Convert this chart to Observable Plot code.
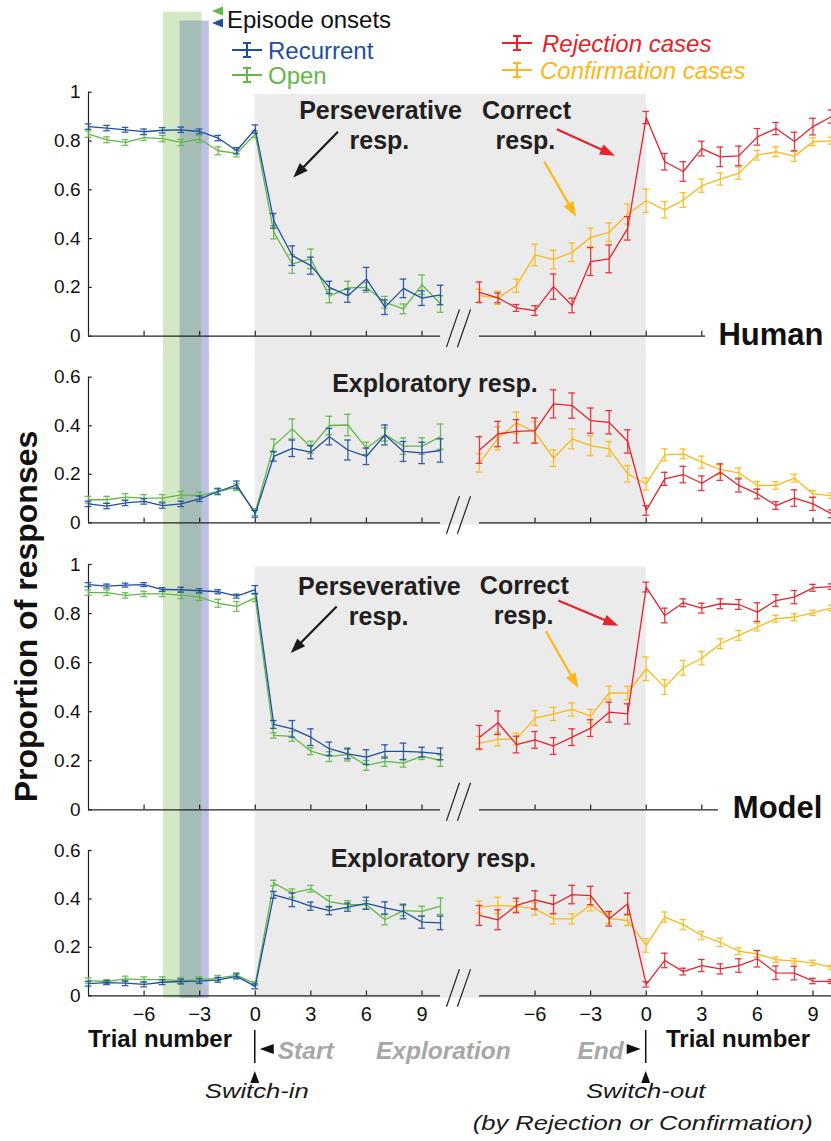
<!DOCTYPE html>
<html>
<head>
<meta charset="utf-8">
<script src="https://cdn.jsdelivr.net/npm/d3@7"></script>
<script src="https://cdn.jsdelivr.net/npm/@observablehq/plot@0.6"></script>
<style>
html, body { margin: 0; padding: 0; background: #fff; }
#fig { position: relative; width: 831px; height: 1141px; overflow: hidden; font-family: "Liberation Sans", Arial, Helvetica, sans-serif; }
#fig > svg { position: absolute; left: 0; }
</style>
</head>
<body>
<div id="fig"></div>
<script>
// ---------------- data ----------------
const OFF = 21.1; // horizontal offset of the switch-out block (trial units)
const leftTrials  = [-9,-8,-7,-6,-5,-4,-3,-2,-1,0,1,2,3,4,5,6,7,8,9,10];
const rightTrials = [-9,-8,-7,-6,-5,-4,-3,-2,-1,0,1,2,3,4,5,6,7,8,9,10];
const xTickTrials = [-6,-3,0,3,6,9];
const yTicksFull = [0,0.2,0.4,0.6,0.8,1];
const yTicksExpl = [0,0.2,0.4,0.6];
const onsetOpen = [-4.95,-2.88];
const onsetRecurrent = [-4.05,-2.48];

// Human – perseverative (left) / correct (right)
const hpRecurrent   = [0.859,0.853,0.846,0.838,0.844,0.846,0.839,0.812,0.760,0.849,0.473,0.330,0.289,0.200,0.166,0.235,0.119,0.196,0.156,0.169];
const hpRecurrentSE = [0.011,0.011,0.010,0.011,0.011,0.011,0.010,0.011,0.013,0.017,0.030,0.040,0.035,0.025,0.027,0.047,0.030,0.038,0.030,0.040];
const hpOpen        = [0.828,0.805,0.794,0.814,0.810,0.794,0.808,0.760,0.749,0.828,0.426,0.296,0.317,0.164,0.198,0.200,0.139,0.112,0.211,0.132];
const hpOpenSE      = [0.013,0.012,0.012,0.012,0.013,0.013,0.014,0.016,0.014,0.014,0.027,0.038,0.040,0.027,0.027,0.020,0.024,0.020,0.040,0.034];
const hcRejection     = [0.180,0.157,0.116,0.105,0.203,0.126,0.306,0.317,0.442,0.896,0.715,0.675,0.769,0.735,0.739,0.817,0.851,0.798,0.859,0.900];
const hcRejectionSE   = [0.042,0.020,0.014,0.020,0.052,0.030,0.057,0.057,0.048,0.025,0.034,0.040,0.030,0.040,0.040,0.034,0.025,0.038,0.034,0.027];
const hcConfirmation   = [0.166,0.157,0.207,0.333,0.314,0.344,0.405,0.426,0.501,0.555,0.518,0.558,0.617,0.644,0.668,0.742,0.756,0.737,0.797,0.801];
const hcConfirmationSE = [0.027,0.027,0.027,0.044,0.038,0.038,0.038,0.038,0.041,0.048,0.034,0.030,0.027,0.025,0.025,0.020,0.020,0.020,0.016,0.014];

// Human – exploratory
const heRecurrent   = [0.078,0.069,0.082,0.088,0.071,0.078,0.099,0.129,0.156,0.037,0.274,0.307,0.291,0.355,0.300,0.274,0.362,0.294,0.288,0.298];
const heRecurrentSE = [0.011,0.011,0.011,0.011,0.011,0.011,0.011,0.011,0.016,0.014,0.020,0.034,0.027,0.034,0.041,0.034,0.041,0.041,0.044,0.048];
const heOpen        = [0.095,0.095,0.106,0.102,0.102,0.115,0.112,0.129,0.147,0.044,0.318,0.387,0.311,0.401,0.403,0.307,0.364,0.316,0.316,0.355];
const heOpenSE      = [0.014,0.014,0.014,0.014,0.014,0.014,0.014,0.014,0.014,0.014,0.027,0.041,0.025,0.038,0.044,0.025,0.027,0.034,0.034,0.052];
const heRejection     = [0.300,0.366,0.377,0.380,0.490,0.483,0.421,0.414,0.335,0.051,0.181,0.199,0.163,0.209,0.154,0.119,0.071,0.102,0.078,0.037];
const heRejectionSE   = [0.055,0.052,0.048,0.052,0.058,0.052,0.052,0.048,0.048,0.020,0.027,0.034,0.030,0.034,0.027,0.020,0.016,0.034,0.027,0.016];
const heConfirmation   = [0.247,0.348,0.412,0.373,0.266,0.346,0.318,0.305,0.202,0.160,0.280,0.284,0.250,0.219,0.206,0.154,0.154,0.184,0.119,0.112];
const heConfirmationSE = [0.038,0.048,0.044,0.044,0.034,0.041,0.041,0.030,0.034,0.025,0.025,0.020,0.025,0.020,0.020,0.016,0.016,0.016,0.014,0.011];

// Model – perseverative / correct
const mpRecurrent   = [0.918,0.912,0.916,0.918,0.898,0.897,0.893,0.889,0.871,0.898,0.348,0.330,0.296,0.249,0.228,0.215,0.238,0.238,0.235,0.228];
const mpRecurrentSE = [0.008,0.008,0.008,0.008,0.008,0.010,0.008,0.008,0.008,0.016,0.016,0.034,0.034,0.027,0.020,0.030,0.027,0.034,0.020,0.024];
const mpOpen        = [0.885,0.885,0.874,0.880,0.880,0.875,0.867,0.842,0.829,0.864,0.303,0.299,0.239,0.217,0.226,0.181,0.197,0.190,0.219,0.201];
const mpOpenSE      = [0.011,0.011,0.011,0.011,0.011,0.014,0.014,0.016,0.020,0.014,0.011,0.020,0.014,0.020,0.027,0.020,0.020,0.016,0.014,0.024];
const mcRejection     = [0.296,0.355,0.266,0.285,0.260,0.296,0.333,0.398,0.391,0.908,0.792,0.844,0.822,0.840,0.837,0.806,0.853,0.867,0.905,0.910];
const mcRejectionSE   = [0.048,0.048,0.034,0.034,0.034,0.034,0.034,0.041,0.041,0.020,0.030,0.016,0.020,0.020,0.020,0.038,0.024,0.027,0.014,0.011];
const mcConfirmation   = [0.272,0.287,0.289,0.374,0.391,0.409,0.382,0.477,0.476,0.575,0.500,0.579,0.618,0.677,0.711,0.745,0.779,0.785,0.803,0.823];
const mcConfirmationSE = [0.027,0.027,0.024,0.030,0.027,0.027,0.027,0.027,0.027,0.048,0.030,0.030,0.027,0.020,0.020,0.016,0.014,0.014,0.011,0.011];

// Model – exploratory
const meRecurrent   = [0.050,0.054,0.052,0.047,0.056,0.059,0.061,0.066,0.080,0.039,0.417,0.396,0.370,0.352,0.366,0.382,0.363,0.348,0.304,0.301];
const meRecurrentSE = [0.010,0.008,0.010,0.010,0.010,0.010,0.010,0.010,0.010,0.010,0.014,0.028,0.017,0.017,0.017,0.025,0.025,0.030,0.025,0.028];
const meOpen        = [0.063,0.059,0.070,0.067,0.067,0.063,0.067,0.073,0.084,0.050,0.466,0.424,0.442,0.389,0.376,0.376,0.314,0.352,0.349,0.370];
const meOpenSE      = [0.011,0.008,0.011,0.011,0.011,0.011,0.011,0.011,0.011,0.008,0.011,0.017,0.014,0.025,0.017,0.017,0.021,0.021,0.021,0.034];
const meRejection     = [0.332,0.314,0.373,0.396,0.377,0.418,0.414,0.318,0.380,0.047,0.146,0.100,0.125,0.111,0.125,0.153,0.095,0.094,0.061,0.059];
const meRejectionSE   = [0.041,0.041,0.030,0.038,0.038,0.038,0.038,0.030,0.044,0.011,0.030,0.014,0.025,0.021,0.028,0.034,0.028,0.028,0.011,0.008];
const meConfirmation   = [0.366,0.373,0.369,0.359,0.318,0.318,0.376,0.320,0.311,0.208,0.325,0.294,0.249,0.221,0.184,0.173,0.149,0.143,0.136,0.118];
const meConfirmationSE = [0.025,0.034,0.021,0.025,0.021,0.021,0.025,0.021,0.021,0.028,0.021,0.021,0.017,0.017,0.014,0.014,0.011,0.011,0.011,0.008];

// ---------------- style ----------------
const COL = {
  recurrent: "#1f4fa0", open: "#62b847", rejection: "#e6232b", confirmation: "#fbb817",
  gray: "#ebebeb", bandOpen: "#d4e8c6", bandRec: "#bcc1e2", bandBoth: "#a6bcb6", ink: "#231f20"
};
const FONT = '"Liberation Sans", Arial, Helvetica, sans-serif';

const fmtY = d => String(d);
const fmtX = d => { const t = d > 11 ? Math.round(d - OFF) : d; return t < 0 ? "\u2212" + (-t) : String(t); };

function rows(trials, v, e, off) { return trials.map((t, i) => ({x: t + off, v: v[i], e: e[i]})); }

function stretch(root, selector, s) {
  root.querySelectorAll(selector).forEach(t => {
    const tr = t.getAttribute("transform") || "";
    const x = t.getAttribute("x") || 0, y = t.getAttribute("y") || 0;
    t.removeAttribute("x"); t.removeAttribute("y");
    t.setAttribute("transform", `${tr} translate(${x},${y}) scale(${s},1)`);
  });
}

function seriesMarks(data, color) {
  const cap = 0.18;
  return [
    Plot.ruleX(data, {x: "x", y1: d => d.v - d.e, y2: d => d.v + d.e, stroke: color, strokeWidth: 1.3, strokeOpacity: 0.9}),
    Plot.ruleY(data, {y: d => d.v + d.e, x1: d => d.x - cap, x2: d => d.x + cap, stroke: color, strokeWidth: 1.3, strokeOpacity: 0.9}),
    Plot.ruleY(data, {y: d => d.v - d.e, x1: d => d.x - cap, x2: d => d.x + cap, stroke: color, strokeWidth: 1.3, strokeOpacity: 0.9}),
    Plot.line(data, {x: "x", y: "v", stroke: color, strokeWidth: 1.3})
  ];
}

function makePanel(cfg) {
  const yExt = o => (o ? o : {});
  const bandBoth = [Math.max(onsetOpen[0], onsetRecurrent[0]), Math.min(onsetOpen[1], onsetRecurrent[1])];
  const bo = cfg.bandOpenY, br = cfg.bandRecY;
  const bb = bo && br ? {y1: Math.max(bo.y1, br.y1), y2: Math.min(bo.y2, br.y2)} : undefined;
  const rightTicks = xTickTrials.map(t => t + OFF).filter(t => t <= cfg.rightAxisEnd + 1e-9);
  const allTicks = [...xTickTrials, ...rightTicks];
  const marks = [
    Plot.rect([onsetOpen], {x1: d => d[0], x2: d => d[1], ...yExt(bo && {y1: () => bo.y1, y2: () => bo.y2}), fill: COL.bandOpen}),
    Plot.rect([onsetRecurrent], {x1: d => d[0], x2: d => d[1], ...yExt(br && {y1: () => br.y1, y2: () => br.y2}), fill: COL.bandRec}),
    Plot.rect([bandBoth], {x1: d => d[0], x2: d => d[1], ...yExt(bb && {y1: () => bb.y1, y2: () => bb.y2}), fill: COL.bandBoth}),
    Plot.rect([[0, OFF]], {x1: d => d[0], x2: d => d[1], y1: () => cfg.grayY.y1, y2: () => cfg.grayY.y2, fill: COL.gray}),
    // axes
    Plot.ruleY([0], {x1: () => -9, x2: () => 10, stroke: "#222", strokeWidth: 1.2}),
    Plot.ruleY([0], {x1: () => OFF - 9, x2: () => cfg.rightAxisEnd, stroke: "#222", strokeWidth: 1.2}),
    Plot.ruleX([-9], {y1: () => 0, y2: () => cfg.yMax, stroke: "#222", strokeWidth: 1.2}),
    Plot.ruleX(allTicks, {x: d => d, y1: () => 0, y2: () => 0.02, stroke: "#222", strokeWidth: 1.2}),
    Plot.ruleY(cfg.yTicks, {y: d => d, x1: () => -9, x2: () => -8.8, stroke: "#222", strokeWidth: 1.2}),
    Plot.text(cfg.yTicks, {x: () => -9, y: d => d, text: fmtY, textAnchor: "end", dx: -8, fontSize: 19, fill: "#111", ariaLabel: "ytick"}),
    // axis break marks
    Plot.link(cfg.breaks, {x1: d => d[0], x2: d => d[1], y1: () => -0.045, y2: () => 0.11, stroke: "#222", strokeWidth: 1.2}),
    // data
    ...seriesMarks(rows(leftTrials, cfg.open.v, cfg.open.e, 0), COL.open),
    ...seriesMarks(rows(leftTrials, cfg.recurrent.v, cfg.recurrent.e, 0), COL.recurrent),
    ...seriesMarks(rows(rightTrials, cfg.confirmation.v, cfg.confirmation.e, OFF), COL.confirmation),
    ...seriesMarks(rows(rightTrials, cfg.rejection.v, cfg.rejection.e, OFF), COL.rejection),
    // annotations
    Plot.text(cfg.texts, {x: "x", y: "y", text: "text", fontSize: 25, fontWeight: "bold", fill: COL.ink, textAnchor: "middle"})
  ];
  if (cfg.label) {
    marks.push(Plot.text([cfg.label], {x: "x", y: "y", text: "text", fontSize: 31, fontWeight: "bold", fill: "#111", textAnchor: "end"}));
  }
  if (cfg.xLabels) {
    marks.push(Plot.text([...xTickTrials, ...xTickTrials.map(t => t + OFF)], {x: d => d, y: () => 0, text: fmtX, dy: 19, fontSize: 20, fill: "#111"}));
  }
  const svg = Plot.plot({
    width: 831, height: cfg.height,
    marginLeft: 88, marginRight: 0, marginTop: 0, marginBottom: 0,
    x: {domain: [-9, OFF + 10], axis: null},
    y: {domain: [0, cfg.yMax], range: [cfg.y0, cfg.y1], axis: null},
    style: {background: "transparent", overflow: "hidden", fontFamily: FONT},
    marks
  });
  svg.style.top = cfg.top + "px";
  stretch(svg, 'g[aria-label="ytick"] text', 1.22);
  // annotation arrows (filled heads)
  const sx = svg.scale("x"), sy = svg.scale("y");
  const g = d3.select(svg).append("g");
  for (const a of cfg.arrows) {
    const x1 = sx.apply(a.x1), y1 = sy.apply(a.y1), x2 = sx.apply(a.x2), y2 = sy.apply(a.y2);
    const L = Math.hypot(x2 - x1, y2 - y1), ux = (x2 - x1) / L, uy = (y2 - y1) / L;
    const hl = 15, hw = 5.5, bx = x2 - ux * hl, by = y2 - uy * hl;
    g.append("line").attr("x1", x1).attr("y1", y1).attr("x2", bx + ux * 2).attr("y2", by + uy * 2)
      .attr("stroke", a.color).attr("stroke-width", 2.2);
    g.append("path").attr("d", `M${x2},${y2}L${bx - uy * hw},${by + ux * hw}L${bx + uy * hw},${by - ux * hw}Z`).attr("fill", a.color);
  }
  return svg;
}

const fig = document.getElementById("fig");
const breaks = [[10.32, 11.02], [10.91, 11.62]];

const p1 = makePanel({
  top: 0, height: 362, yMax: 1, y0: 335.7, y1: 91.7, yTicks: yTicksFull,
  recurrent: {v: hpRecurrent, e: hpRecurrentSE}, open: {v: hpOpen, e: hpOpenSE},
  rejection: {v: hcRejection, e: hcRejectionSE}, confirmation: {v: hcConfirmation, e: hcConfirmationSE},
  grayY: {y1: -1, y2: 0.99}, bandOpenY: {y1: -1, y2: 1.328}, bandRecY: {y1: -1, y2: 1.291},
  rightAxisEnd: 24.3, breaks,
  texts: [
    {x: 6.76, y: 0.924, text: "Perseverative"}, {x: 6.70, y: 0.801, text: "resp."},
    {x: 14.64, y: 0.924, text: "Correct"}, {x: 14.58, y: 0.801, text: "resp."}
  ],
  label: {x: 30.67, y: 0.003, text: "Human"},
  arrows: [
    {x1: 4.49, y1: 0.836, x2: 2.08, y2: 0.648, color: "#1a1a1a"},
    {x1: 16.30, y1: 0.846, x2: 19.44, y2: 0.738, color: COL.rejection},
    {x1: 15.63, y1: 0.713, x2: 17.34, y2: 0.488, color: COL.confirmation}
  ]
});
const p2 = makePanel({
  top: 350, height: 190, yMax: 0.6, y0: 172.3, y1: 26.7, yTicks: yTicksExpl,
  recurrent: {v: heRecurrent, e: heRecurrentSE}, open: {v: heOpen, e: heOpenSE},
  rejection: {v: heRejection, e: heRejectionSE}, confirmation: {v: heConfirmation, e: heConfirmationSE},
  grayY: {y1: -0.01, y2: 1}, rightAxisEnd: OFF + 10, breaks,
  texts: [{x: 9.70, y: 0.570, text: "Exploratory resp."}],
  arrows: []
});
const p3 = makePanel({
  top: 540, height: 290, yMax: 1, y0: 269.3, y1: 24, yTicks: yTicksFull,
  recurrent: {v: mpRecurrent, e: mpRecurrentSE}, open: {v: mpOpen, e: mpOpenSE},
  rejection: {v: mcRejection, e: mcRejectionSE}, confirmation: {v: mcConfirmation, e: mcConfirmationSE},
  grayY: {y1: -1, y2: 0.99}, rightAxisEnd: 25.0, breaks,
  texts: [
    {x: 6.70, y: 0.907, text: "Perseverative"}, {x: 6.66, y: 0.785, text: "resp."},
    {x: 14.52, y: 0.914, text: "Correct"}, {x: 14.48, y: 0.792, text: "resp."}
  ],
  label: {x: 30.61, y: 0.005, text: "Model"},
  arrows: [
    {x1: 4.42, y1: 0.827, x2: 1.94, y2: 0.637, color: "#1a1a1a"},
    {x1: 16.38, y1: 0.851, x2: 19.62, y2: 0.748, color: COL.rejection},
    {x1: 15.72, y1: 0.725, x2: 17.46, y2: 0.494, color: COL.confirmation}
  ]
});
const p4 = makePanel({
  top: 830, height: 311, yMax: 0.6, y0: 165.3, y1: 20, yTicks: yTicksExpl,
  recurrent: {v: meRecurrent, e: meRecurrentSE}, open: {v: meOpen, e: meOpenSE},
  rejection: {v: meRejection, e: meRejectionSE}, confirmation: {v: meConfirmation, e: meConfirmationSE},
  grayY: {y1: -0.01, y2: 1}, bandOpenY: {y1: -0.01, y2: 1}, bandRecY: {y1: -0.01, y2: 1},
  rightAxisEnd: OFF + 10, breaks, xLabels: true,
  texts: [{x: 9.62, y: 0.564, text: "Exploratory resp."}],
  arrows: []
});
[p1, p2, p3, p4].forEach(p => fig.appendChild(p));

// ---------------- overlay: legend, axis titles, switch annotations ----------------
const ov = d3.select(fig).append("svg").attr("width", 831).attr("height", 1141)
  .style("top", "0px").style("font-family", FONT);

function txt(x, y, s, o = {}) {
  const t = ov.append("text")
    .attr("transform", `translate(${x},${y})` + (o.rotate ? ` rotate(${o.rotate})` : "") + (o.sx ? ` scale(${o.sx},1)` : ""))
    .attr("font-size", o.size || 24).attr("fill", o.fill || "#111")
    .attr("text-anchor", o.anchor || "start").text(s);
  if (o.weight) t.attr("font-weight", o.weight);
  if (o.italic) t.attr("font-style", "italic");
  return t;
}
function tri(cx, cy, dir, w, h, fill) {
  let d;
  if (dir === "left") d = `M${cx - w / 2},${cy}L${cx + w / 2},${cy - h / 2}L${cx + w / 2},${cy + h / 2}Z`;
  if (dir === "right") d = `M${cx + w / 2},${cy}L${cx - w / 2},${cy - h / 2}L${cx - w / 2},${cy + h / 2}Z`;
  if (dir === "up") d = `M${cx},${cy - h / 2}L${cx - w / 2},${cy + h / 2}L${cx + w / 2},${cy + h / 2}Z`;
  ov.append("path").attr("d", d).attr("fill", fill);
}
function errSym(x, y, color) {
  ov.append("line").attr("x1", x - 15).attr("x2", x + 15).attr("y1", y).attr("y2", y).attr("stroke", color).attr("stroke-width", 2);
  ov.append("line").attr("x1", x).attr("x2", x).attr("y1", y - 7).attr("y2", y + 7).attr("stroke", color).attr("stroke-width", 2);
  ov.append("line").attr("x1", x - 4).attr("x2", x + 4).attr("y1", y - 7).attr("y2", y - 7).attr("stroke", color).attr("stroke-width", 2);
  ov.append("line").attr("x1", x - 4).attr("x2", x + 4).attr("y1", y + 7).attr("y2", y + 7).attr("stroke", color).attr("stroke-width", 2);
}

// legend
tri(217.5, 11, "left", 11, 9, COL.open);
tri(217.5, 23, "left", 11, 9, COL.recurrent);
txt(227, 28, "Episode onsets", {size: 24, fill: "#111"});
errSym(247, 50, COL.recurrent);
txt(268, 59, "Recurrent", {size: 24, fill: COL.recurrent});
errSym(247, 75, COL.open);
txt(268, 84, "Open", {size: 24, fill: COL.open});
errSym(517, 43, COL.rejection);
txt(542, 52, "Rejection cases", {size: 24, fill: COL.rejection, italic: true});
errSym(517, 70, COL.confirmation);
txt(540, 79, "Confirmation cases", {size: 24, fill: COL.confirmation, italic: true});

// y title
txt(37, 616.5, "Proportion of responses", {size: 32, weight: "bold", anchor: "middle", rotate: -90});

// bottom annotations
const sx4 = p4.scale("x");
const xIn = sx4.apply(0), xOut = sx4.apply(OFF);
txt(88, 1047, "Trial number", {size: 24, weight: "bold"});
txt(666, 1047, "Trial number", {size: 24, weight: "bold"});
[xIn, xOut].forEach(x => {
  ov.append("line").attr("x1", x).attr("x2", x).attr("y1", 1030).attr("y2", 1063).attr("stroke", "#111").attr("stroke-width", 1.5);
  tri(x, 1077, "up", 9, 12, "#111");
});
tri(xIn + 12, 1049, "left", 14, 10, "#111");
tri(xOut - 12, 1049, "right", 14, 10, "#111");
const gcol = "#a7a7a7";
txt(xIn + 23, 1059, "Start", {size: 24.5, weight: "bold", italic: true, fill: gcol});
txt(376, 1059, "Exploration", {size: 24.5, weight: "bold", italic: true, fill: gcol});
txt(xOut - 22, 1059, "End", {size: 24.5, weight: "bold", italic: true, fill: gcol, anchor: "end"});
txt(xIn + 2, 1098, "Switch-in", {size: 20.5, italic: true, anchor: "middle", sx: 1.25, fill: "#1a1a1a"});
txt(xOut, 1098, "Switch-out", {size: 20.5, italic: true, anchor: "middle", sx: 1.25, fill: "#1a1a1a"});
txt(xOut - 3, 1130, "(by Rejection or Confirmation)", {size: 20.5, italic: true, anchor: "middle", sx: 1.25, fill: "#1a1a1a"});
</script>
</body>
</html>
